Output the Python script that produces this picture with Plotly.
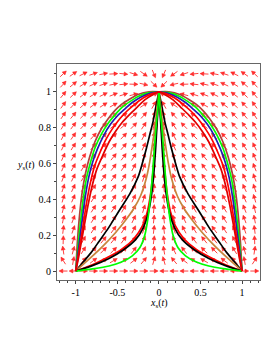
import numpy as np
import plotly.graph_objects as go

# ---------------- data (right half, x >= 0; left half is the mirror image) ----------------
green_arc_x = [0, 0.12, 0.25, 0.35, 0.45, 0.53, 0.61, 0.69, 0.77, 0.82, 0.87, 0.91, 0.95, 0.97, 0.985, 1]
green_arc_y = [1, 0.995, 0.974, 0.945, 0.91, 0.87, 0.825, 0.765, 0.685, 0.61, 0.52, 0.40, 0.24, 0.145, 0.07, 0]

brown_arc_x = [0, 0.12, 0.25, 0.35, 0.45, 0.53, 0.61, 0.69, 0.77, 0.83, 0.88, 0.925, 0.96, 0.98, 0.99, 1]
brown_arc_y = [1, 1.0, 0.985, 0.96, 0.93, 0.895, 0.85, 0.795, 0.72, 0.64, 0.55, 0.43, 0.28, 0.16, 0.08, 0]

blue_arc_x = [0, 0.10, 0.22, 0.32, 0.42, 0.50, 0.58, 0.66, 0.74, 0.795, 0.845, 0.89, 0.935, 0.96, 0.98, 1]
blue_arc_y = [1, 0.993, 0.97, 0.94, 0.90, 0.865, 0.82, 0.76, 0.68, 0.61, 0.52, 0.40, 0.24, 0.145, 0.07, 0]

red_arc1_x = [0, 0.08, 0.19, 0.29, 0.39, 0.47, 0.55, 0.63, 0.71, 0.77, 0.82, 0.87, 0.92, 0.95, 0.975, 1]
red_arc1_y = [1, 0.99, 0.965, 0.93, 0.89, 0.85, 0.80, 0.74, 0.66, 0.59, 0.50, 0.38, 0.23, 0.14, 0.07, 0]

red_arc2_x = [0, 0.07, 0.17, 0.26, 0.36, 0.44, 0.52, 0.60, 0.68, 0.745, 0.80, 0.855, 0.91, 0.945, 0.97, 1]
red_arc2_y = [1, 0.985, 0.955, 0.915, 0.87, 0.83, 0.78, 0.72, 0.64, 0.57, 0.48, 0.36, 0.22, 0.13, 0.065, 0]

black_up_x = [0, 0.035, 0.07, 0.11, 0.15, 0.20, 0.25, 0.35, 0.48, 0.60, 0.72, 0.82, 0.91, 1]
black_up_y = [1, 0.92, 0.835, 0.76, 0.685, 0.60, 0.525, 0.43, 0.335, 0.245, 0.165, 0.10, 0.05, 0]

orange_x = [0, 0.025, 0.05, 0.08, 0.11, 0.15, 0.22, 0.30, 0.39, 0.52, 0.67, 0.83, 1]
orange_y = [1, 0.90, 0.80, 0.70, 0.61, 0.52, 0.42, 0.35, 0.29, 0.215, 0.14, 0.07, 0]

red_low_x = [0, 0.015, 0.03, 0.05, 0.07, 0.10, 0.14, 0.20, 0.30, 0.45, 0.62, 0.80, 1]
red_low_y = [1, 0.90, 0.80, 0.68, 0.56, 0.43, 0.33, 0.25, 0.18, 0.12, 0.075, 0.035, 0]

black_low_x = [0, 0.012, 0.025, 0.04, 0.06, 0.09, 0.13, 0.19, 0.28, 0.42, 0.60, 0.80, 1]
black_low_y = [1, 0.90, 0.80, 0.68, 0.55, 0.42, 0.32, 0.24, 0.175, 0.12, 0.07, 0.03, 0]

green_low_x = [0, 0.015, 0.035, 0.055, 0.075, 0.10, 0.13, 0.17, 0.23, 0.32, 0.45, 0.60, 0.80, 1]
green_low_y = [1, 0.90, 0.80, 0.68, 0.55, 0.42, 0.30, 0.20, 0.13, 0.085, 0.05, 0.028, 0.012, 0]

x_ticks = [-1, -0.5, 0, 0.5, 1]
x_tick_labels = ["-1", "-0.5", "0", "0.5", "1"]
y_ticks = [0, 0.2, 0.4, 0.6, 0.8, 1]
y_tick_labels = ["0", "0.2", "0.4", "0.6", "0.8", "1"]

# direction-field model shown by the arrows
def field(x, y):
    return x * (x * x - 1) - 2 * x * y, 2 * y * (1 - y + 0.4 * x * x)

# ---------------- layout geometry ----------------
W, H = 273, 353
ML, MR, MT, MB = 49, 21, 56, 81
XR = [-1.225, 1.215]
YR = [-0.05, 1.155]
PW, PH = W - ML - MR, H - MT - MB
sx = PW / (XR[1] - XR[0])
sy = PH / (YR[1] - YR[0])

fig = go.Figure()

# ---------------- arrows ----------------
gx = np.linspace(-1.15, 1.15, 20)
gy = np.linspace(0.0, 1.1, 20)
L, HL, HW = 8.5, 3.8, 2.0
shx, shy, hx, hy = [], [], [], []
for yv in gy:
    for xv in gx:
        u, v = field(xv, yv)
        pu, pv = u * sx, v * sy
        n = np.hypot(pu, pv)
        if n == 0:
            continue
        du, dv = pu / n, pv / n
        tail = (xv - du * L / 2 / sx, yv - dv * L / 2 / sy)
        tip = (xv + du * L / 2 / sx, yv + dv * L / 2 / sy)
        base = (tip[0] - du * HL / sx, tip[1] - dv * HL / sy)
        shx += [tail[0], base[0], None]
        shy += [tail[1], base[1], None]
        hx += [tip[0], base[0] - dv * HW / sx, base[0] + dv * HW / sx, tip[0], None]
        hy += [tip[1], base[1] + du * HW / sy, base[1] - du * HW / sy, tip[1], None]

fig.add_trace(go.Scatter(x=shx, y=shy, mode="lines", line=dict(color="rgba(255,0,0,0.75)", width=1),
                         hoverinfo="skip", showlegend=False))
fig.add_trace(go.Scatter(x=hx, y=hy, mode="lines", fill="toself", fillcolor="rgba(255,0,0,0.8)",
                         line=dict(color="rgba(255,0,0,0.8)", width=0.5), hoverinfo="skip", showlegend=False))

# ---------------- trajectories ----------------
curves = [
    (black_up_x, black_up_y, "#000000"),
    (orange_x, orange_y, "#c8843c"),
    (red_low_x, red_low_y, "#ff0000"),
    (black_low_x, black_low_y, "#000000"),
    (green_low_x, green_low_y, "#00ff00"),
    (brown_arc_x, brown_arc_y, "#b0403a"),
    (green_arc_x, green_arc_y, "#00ff00"),
    (blue_arc_x, blue_arc_y, "#2020b0"),
    (red_arc1_x, red_arc1_y, "#ff0000"),
    (red_arc2_x, red_arc2_y, "#e00000"),
]
for cx, cy, col in curves:
    for sgn in (1, -1):
        fig.add_trace(go.Scatter(x=[sgn * v for v in cx], y=cy, mode="lines",
                                 line=dict(color=col, width=1.7, shape="spline", smoothing=0.8),
                                 hoverinfo="skip", showlegend=False))

axis_common = dict(showline=True, linecolor="#666666", linewidth=1, mirror=True, showgrid=False,
                   zeroline=False, ticks="outside", ticklen=3, tickcolor="#444444",
                   ticklabelstandoff=0,
                   tickfont=dict(family="Liberation Serif", size=10, color="black"))
fig.update_xaxes(range=XR, tickvals=x_ticks, ticktext=x_tick_labels,
                 minor=dict(ticks="outside", ticklen=2, dtick=0.1, tick0=0, tickcolor="#444444"),
                 **axis_common)
fig.update_yaxes(range=YR, tickvals=y_ticks, ticktext=y_tick_labels,
                 minor=dict(ticks="outside", ticklen=2, dtick=0.1, tick0=0, tickcolor="#444444"),
                 **axis_common)

fig.update_layout(
    width=W, height=H, margin=dict(l=ML, r=MR, t=MT, b=MB),
    paper_bgcolor="white", plot_bgcolor="white", showlegend=False,
    annotations=[
        dict(text="<i>x</i><sub>s</sub>(<i>t</i>)", xref="paper", yref="paper", x=0.5, y=-(287 - 272) / PH,
             xanchor="center", yanchor="top", showarrow=False,
             font=dict(family="Liberation Serif", size=10, color="black")),
        dict(text="<i>y</i><sub>s</sub>(<i>t</i>)", xref="paper", yref="paper", x=-(49 - 29) / PW,
             y=(272 - 157) / PH, xanchor="right", yanchor="middle", showarrow=False,
             font=dict(family="Liberation Serif", size=10, color="black")),
    ],
)

fig.write_html("out.html")
